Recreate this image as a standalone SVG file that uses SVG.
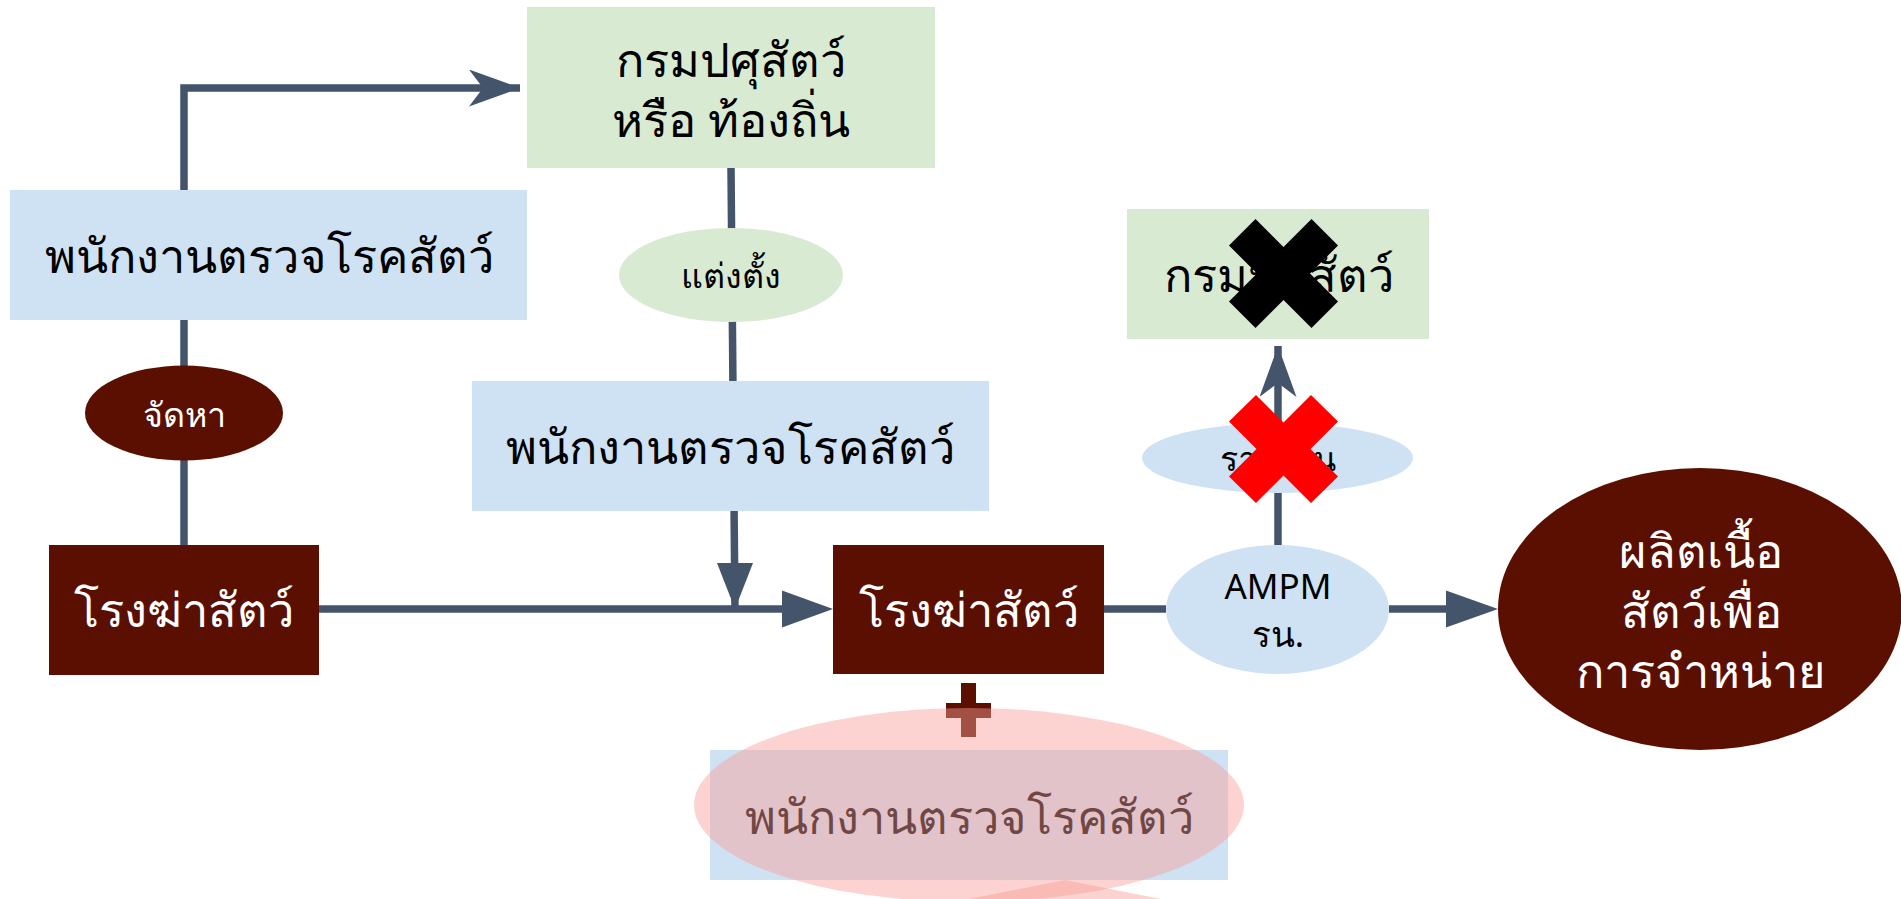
<svg xmlns="http://www.w3.org/2000/svg" width="1901" height="899" viewBox="0 0 1901 899">
<style>
.conn{stroke:#44546A;stroke-width:7.5;fill:none}
.head{fill:#44546A}
.blue{fill:#CFE2F3}
.green{fill:#D9EAD3}
.dark{fill:#5B0F00}
.t{font-family:"Noto Sans",sans-serif;text-anchor:middle}
.big{font-size:47px}
.small{font-size:34px}
.blk{fill:#000}
.wht{fill:#fff}
.pink{fill:#F99E97;fill-opacity:0.45}
</style>
<defs>
<marker id="open" markerUnits="userSpaceOnUse" viewBox="0 0 51 37" refX="51" refY="18.5" markerWidth="51" markerHeight="37" orient="auto">
<path d="M0,0 L51,18.5 L0,37 L14,18.5 Z" fill="#44546A"/>
</marker>
</defs>
<rect width="1901" height="899" fill="#fff"/>

<g id="connectors">
<path class="conn" d="M184,190 V88 H520" marker-end="url(#open)"/>
<line class="conn" x1="184" y1="320" x2="184" y2="545"/>
<line class="conn" x1="731" y1="168" x2="735" y2="612"/>
<line class="conn" x1="319" y1="609" x2="790" y2="609"/>
<line class="conn" x1="1104" y1="609" x2="1166" y2="609"/>
<line class="conn" x1="1389" y1="609" x2="1450" y2="609"/>
<path class="conn" d="M1278,545 V346" marker-end="url(#open)"/>
<polygon class="head" points="717,563 753,563 735,609"/>
<polygon class="head" points="782,590.5 833,609 782,627.5"/>
<polygon class="head" points="1446,590.5 1498,609 1446,627.5"/>
</g>

<g id="node-green-top">
<rect class="green" x="527" y="7" width="408" height="161"/>
<text class="t big blk" x="731" y="77">กรมปศุสัตว์</text>
<text class="t big blk" x="731" y="137">หรือ ท้องถิ่น</text>
</g>

<g id="node-blue-left">
<rect class="blue" x="10" y="190" width="517" height="130"/>
<text class="t big blk" x="269" y="273">พนักงานตรวจโรคสัตว์</text>
</g>

<g id="node-jadha">
<ellipse class="dark" cx="184" cy="413" rx="99" ry="47.5"/>
<text class="t small wht" x="184" y="427">จัดหา</text>
</g>

<g id="node-taengtang">
<ellipse class="green" cx="731" cy="275" rx="112" ry="47"/>
<text class="t small blk" x="731" y="288">แต่งตั้ง</text>
</g>

<g id="node-blue-mid">
<rect class="blue" x="472" y="381" width="517" height="130"/>
<text class="t big blk" x="730.5" y="464">พนักงานตรวจโรคสัตว์</text>
</g>

<g id="node-slaughter-left">
<rect class="dark" x="49" y="545" width="270" height="130"/>
<text class="t big wht" x="184" y="627">โรงฆ่าสัตว์</text>
</g>

<g id="node-slaughter-mid">
<rect class="dark" x="833" y="545" width="271" height="129"/>
<text class="t big wht" x="968.5" y="627">โรงฆ่าสัตว์</text>
</g>

<g id="node-ampm">
<ellipse class="blue" cx="1277.5" cy="609.5" rx="111.5" ry="64.5"/>
<text class="t blk" style="font-size:35px" x="1278" y="599">AMPM</text>
<text class="t blk" style="font-size:35px" x="1278" y="647">รน.</text>
</g>

<g id="node-report">
<ellipse class="blue" cx="1277.5" cy="458" rx="135.5" ry="35"/>
<text class="t small blk" x="1278" y="471">รายงาน</text>
<polygon fill="#FF0000" points="1229,421.5 1256,395 1283.5,422.5 1311,395 1338,421.5 1310.5,449 1338,476.5 1311,503 1283.5,475.5 1256,503 1229,476.5 1256.5,449"/>
</g>

<g id="node-green-right">
<rect class="green" x="1127" y="209" width="302" height="130"/>
<text class="t big blk" x="1279" y="292">กรมปศุสัตว์</text>
<polygon fill="#000" points="1229,245.5 1255.5,219 1283.5,247 1311.5,219 1338,245.5 1310,273.5 1338,301.5 1311.5,328 1283.5,300 1255.5,328 1229,301.5 1257,273.5"/>
</g>

<g id="node-product">
<ellipse class="dark" cx="1700" cy="609" rx="202" ry="141"/>
<text class="t big wht" x="1701" y="568">ผลิตเนื้อ</text>
<text class="t big wht" x="1701" y="628">สัตว์เพื่อ</text>
<text class="t big wht" x="1701" y="688">การจำหน่าย</text>
</g>

<g id="node-blue-bottom">
<polygon class="pink" points="1065,880 863,920 1267,920"/>
<rect class="blue" x="710" y="750" width="518" height="130"/>
<text class="t big blk" x="969" y="834">พนักงานตรวจโรคสัตว์</text>
<rect class="dark" x="961" y="683" width="15" height="54"/>
<rect class="dark" x="946" y="703" width="45" height="15"/>
<ellipse class="pink" cx="969" cy="805" rx="275" ry="97"/>
</g>
</svg>
